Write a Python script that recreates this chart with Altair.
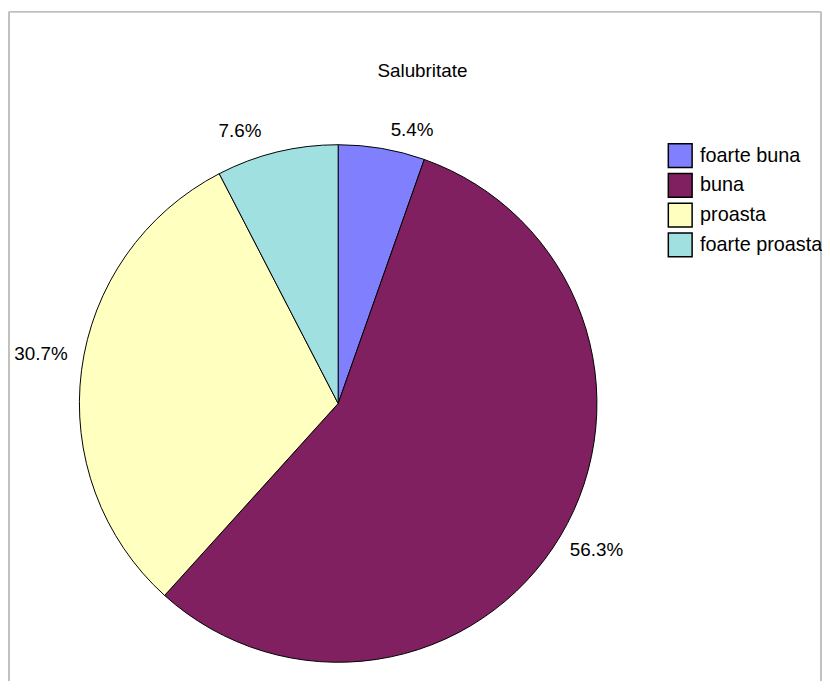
import altair as alt
import pandas as pd

categories = ["foarte buna", "buna", "proasta", "foarte proasta"]
values = [5.4, 56.3, 30.7, 7.6]
colors = ["#8080FF", "#802060", "#FFFFC0", "#A0E0E0"]
title_text = "Salubritate"

df = pd.DataFrame({"cat": categories, "value": values, "idx": list(range(len(categories)))})

W, H = 819, 675
CX, CY = 332, 395
R = 261
FONT = "Liberation Sans"

base = alt.Chart(df).transform_window(
    cum="sum(value)", sort=[alt.SortField("idx")], frame=[None, 0]
).transform_calculate(
    start="datum.cum - datum.value",
    mid="datum.cum - datum.value / 2",
    label="format(datum.value, '.1f') + '%'",
)

theta_scale = alt.Scale(domain=[0, 100])
color = alt.Color(
    "cat:N",
    scale=alt.Scale(domain=categories, range=colors),
    legend=alt.Legend(
        title=None,
        orient="none",
        legendX=664,
        legendY=132,
        symbolType="square",
        symbolSize=576,
        symbolStrokeColor="black",
        symbolStrokeWidth=1.5,
        symbolOpacity=1,
        labelFontSize=20,
        labelFont=FONT,
        labelColor="black",
        rowPadding=0,
        labelOffset=7,
        labelLimit=300,
    ),
)

pie = base.mark_arc(outerRadius=R, stroke="black", strokeWidth=1, opacity=1).encode(
    theta=alt.Theta("start:Q", scale=theta_scale),
    theta2="cum:Q",
    color=color,
    order=alt.Order("idx:Q"),
    x=alt.value(CX),
    y=alt.value(CY),
)


def label_layer(lo, hi, align, dx, dy):
    return base.transform_filter(
        f"datum.mid >= {lo} && datum.mid < {hi}"
    ).mark_text(
        radius=272, align=align, baseline="middle", fontSize=19, font=FONT,
        color="black", dx=dx, dy=dy,
    ).encode(
        theta=alt.Theta("mid:Q", scale=theta_scale),
        text="label:N",
        x=alt.value(CX),
        y=alt.value(CY),
    )


labels = [
    label_layer(0, 25, "left", 7, -8),
    label_layer(25, 50, "left", 0, 9),
    label_layer(50, 90, "right", -3, -15),
    label_layer(90, 101, "right", -13, -11),
]

one = pd.DataFrame({"f": [0]})
title = alt.Chart(one).mark_text(
    text=title_text, fontSize=19, font=FONT, color="black", align="center", baseline="middle"
).encode(x=alt.value(417), y=alt.value(60))

frame_top = alt.Chart(one).mark_rule(color="#C0C0C0", strokeWidth=2).encode(
    x=alt.value(0), x2=alt.value(W), y=alt.value(0)
)
frame_left = alt.Chart(one).mark_rule(color="#C0C0C0", strokeWidth=2).encode(
    x=alt.value(0), y=alt.value(0), y2=alt.value(H)
)
frame_right = alt.Chart(one).mark_rule(color="#C0C0C0", strokeWidth=2).encode(
    x=alt.value(W), y=alt.value(0), y2=alt.value(H)
)

chart = alt.layer(
    frame_top, frame_left, frame_right, pie, *labels, title
).properties(
    width=W,
    height=H,
    autosize=alt.AutoSizeParams(type="none"),
    padding={"left": 1, "top": 1, "right": 1, "bottom": 0},
    background="white",
).configure_view(stroke=None)

chart.save("out.html", embed_options={"renderer": "svg", "actions": False})
